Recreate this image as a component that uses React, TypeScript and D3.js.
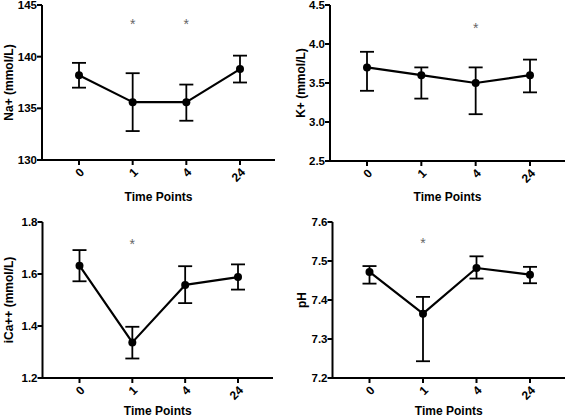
import React from "react";
import * as d3 from "d3";

const categories = ["0", "1", "4", "24"];

const naMean = [138.2, 135.6, 135.6, 138.8];
const naLow = [137.0, 132.8, 133.8, 137.5];
const naHigh = [139.4, 138.4, 137.3, 140.1];
const naTicks = [130, 135, 140, 145];
const naStars = [1, 2];

const kMean = [3.7, 3.6, 3.5, 3.6];
const kLow = [3.4, 3.3, 3.1, 3.38];
const kHigh = [3.9, 3.7, 3.7, 3.8];
const kTicks = [2.5, 3.0, 3.5, 4.0, 4.5];
const kStars = [2];

const caMean = [1.632, 1.337, 1.558, 1.588];
const caLow = [1.572, 1.275, 1.488, 1.54];
const caHigh = [1.692, 1.397, 1.63, 1.637];
const caTicks = [1.2, 1.4, 1.6, 1.8];
const caStars = [1];

const phMean = [7.472, 7.365, 7.482, 7.465];
const phLow = [7.442, 7.243, 7.455, 7.443];
const phHigh = [7.487, 7.408, 7.512, 7.485];
const phTicks = [7.2, 7.3, 7.4, 7.5, 7.6];
const phStars = [1];

type PanelProps = {
  left: number; top: number; right: number; bottom: number;
  mean: number[]; low: number[]; high: number[];
  ticks: number[]; fmt: (v: number) => string;
  stars: number[]; starValue: number;
  yLabel: string; yLabelX: number; xLabelY: number;
};

const FONT = "'Liberation Sans', Arial, Helvetica, sans-serif";

function Panel(p: PanelProps) {
  const y = d3.scaleLinear().domain([p.ticks[0], p.ticks[p.ticks.length - 1]]).range([p.bottom, p.top]);
  const x = d3.scalePoint<string>().domain(categories).range([p.left + 37, p.right - 35]);
  const pts = categories.map((c, i) => [x(c) as number, y(p.mean[i])] as [number, number]);
  const line = d3.line()(pts) || "";
  const cap = 7;
  return (
    <g>
      <path d={line} fill="none" stroke="#000" strokeWidth={2.2} strokeLinejoin="round" />
      {categories.map((c, i) => {
        const cx = x(c) as number;
        return (
          <g key={c}>
            <line x1={cx} x2={cx} y1={y(p.low[i])} y2={y(p.high[i])} stroke="#000" strokeWidth={1.8} />
            <line x1={cx - cap} x2={cx + cap} y1={y(p.low[i])} y2={y(p.low[i])} stroke="#000" strokeWidth={1.8} />
            <line x1={cx - cap} x2={cx + cap} y1={y(p.high[i])} y2={y(p.high[i])} stroke="#000" strokeWidth={1.8} />
            <circle cx={cx} cy={y(p.mean[i])} r={4} fill="#000" />
          </g>
        );
      })}
      {p.stars.map((i) => (
        <text key={"s" + i} x={x(categories[i]) as number} y={y(p.starValue) + 6} textAnchor="middle"
          fontFamily={FONT} fontSize={14} fill="#666">*</text>
      ))}
      <line x1={p.left} x2={p.left} y1={p.top} y2={p.bottom + 1} stroke="#000" strokeWidth={2} />
      <line x1={p.left - 1} x2={p.right} y1={p.bottom} y2={p.bottom} stroke="#000" strokeWidth={2} />
      {p.ticks.map((t) => (
        <g key={"t" + t}>
          <line x1={p.left - 5} x2={p.left} y1={y(t)} y2={y(t)} stroke="#000" strokeWidth={2} />
          <text x={p.left - 5} y={y(t)} dy="0.35em" textAnchor="end" fontFamily={FONT}
            fontWeight="bold" fontSize={11.5} fill="#000">{p.fmt(t)}</text>
        </g>
      ))}
      {categories.map((c) => {
        const cx = x(c) as number;
        return (
          <g key={"x" + c}>
            <line x1={cx} x2={cx} y1={p.bottom} y2={p.bottom + 5} stroke="#000" strokeWidth={2} />
            <text transform={`translate(${cx + 3},${p.bottom + 10}) rotate(-45)`} textAnchor="end" dy="0.35em"
              fontFamily={FONT} fontWeight="bold" fontSize={12} fill="#000">{c}</text>
          </g>
        );
      })}
      <text x={(p.left + p.right) / 2} y={p.xLabelY} textAnchor="middle" fontFamily={FONT}
        fontWeight="bold" fontSize={12} fill="#000">Time Points</text>
      <text transform={`translate(${p.yLabelX},${(p.top + p.bottom) / 2}) rotate(-90)`} textAnchor="middle"
        fontFamily={FONT} fontWeight="bold" fontSize={12} fill="#000">{p.yLabel}</text>
    </g>
  );
}

export default function App() {
  const f0 = d3.format("d");
  const f1 = d3.format(".1f");
  return (
    <svg width={567} height={420} style={{ position: "absolute", left: 0, top: 0, background: "#fff" }}>
      <rect width={567} height={420} fill="#fff" />
      <Panel left={42} top={5} right={275} bottom={160} mean={naMean} low={naLow} high={naHigh}
        ticks={naTicks} fmt={f0} stars={naStars} starValue={143.3} yLabel="Na+ (mmol/L)" yLabelX={13} xLabelY={201} />
      <Panel left={330} top={5} right={565} bottom={161} mean={kMean} low={kLow} high={kHigh}
        ticks={kTicks} fmt={f1} stars={kStars} starValue={4.22} yLabel="K+ (mmol/L)" yLabelX={305} xLabelY={201} />
      <Panel left={42.5} top={222} right={273} bottom={378} mean={caMean} low={caLow} high={caHigh}
        ticks={caTicks} fmt={f1} stars={caStars} starValue={1.718} yLabel="iCa++ (mmol/L)" yLabelX={13} xLabelY={415} />
      <Panel left={332.5} top={222} right={565} bottom={378} mean={phMean} low={phLow} high={phHigh}
        ticks={phTicks} fmt={f1} stars={phStars} starValue={7.549} yLabel="pH" yLabelX={306} xLabelY={415} />
    </svg>
  );
}
